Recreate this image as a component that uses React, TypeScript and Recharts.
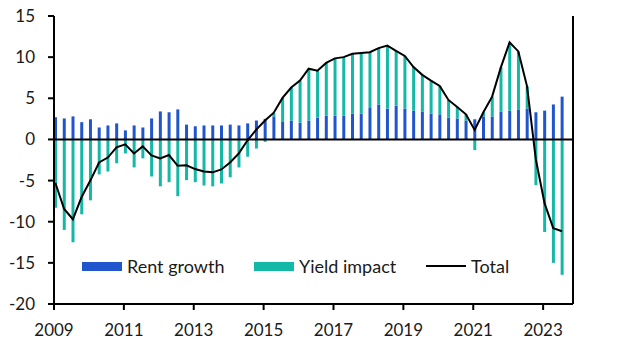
import { ComposedChart, Bar, Line, XAxis, YAxis, ReferenceLine } from 'recharts';

const years = [2009, 2010, 2011, 2012, 2013, 2014, 2015, 2016, 2017, 2018, 2019, 2020, 2021, 2022, 2023];
const quarters = years.flatMap((y) => [1, 2, 3, 4].map((q) => `${y} Q${q}`)).slice(0, 59);

const rentGrowth = [
  2.7, 2.55, 2.8, 2.1, 2.45, 1.45, 1.7, 1.95, 1.1, 1.7,
  1.45, 2.55, 3.4, 3.3, 3.65, 1.8, 1.6, 1.7, 1.7, 1.7,
  1.8, 1.7, 1.95, 2.3, 2.5, 2.8, 2.2, 2.3, 2.05, 2.3,
  2.65, 2.9, 2.9, 2.9, 3.15, 3.15, 3.9, 4.25, 3.75, 4.1,
  3.75, 3.5, 3.4, 3.15, 3.05, 2.65, 2.55, 2.3, 2.45, 2.8,
  2.8, 3.4, 3.5, 3.65, 3.75, 3.3, 3.5, 4.25, 5.2,
];

const yieldImpact = [
  -8.3, -11.0, -12.5, -9.1, -7.4, -4.25, -3.9, -2.9, -1.7, -3.4,
  -2.3, -4.5, -5.7, -5.2, -6.9, -4.95, -5.2, -5.6, -5.7, -5.35,
  -4.6, -3.4, -2.1, -1.1, -0.3, 0.4, 2.85, 4.0, 5.1, 6.3,
  5.7, 6.4, 6.9, 7.05, 7.25, 7.35, 6.7, 6.85, 7.6, 6.65,
  6.4, 5.3, 4.45, 4.0, 3.45, 2.15, 1.4, 0.75, -1.3, 0.5,
  2.4, 5.35, 8.25, 7.0, 2.7, -5.55, -11.25, -15.0, -16.45,
];

const total = [
  -5.3, -8.45, -9.7, -7.0, -5.0, -2.8, -2.2, -0.95, -0.6, -1.7,
  -0.85, -1.95, -2.3, -1.9, -3.2, -3.15, -3.6, -3.9, -4.0, -3.65,
  -2.8, -1.7, -0.1, 1.2, 2.3, 3.25, 5.05, 6.3, 7.15, 8.6,
  8.35, 9.3, 9.85, 10.0, 10.4, 10.5, 10.6, 11.1, 11.4, 10.75,
  10.15, 8.8, 7.85, 7.15, 6.5, 4.8, 3.95, 3.05, 1.15, 3.3,
  5.2, 8.75, 11.8, 10.7, 6.45, -2.4, -7.75, -10.8, -11.15,
];

const xTicks = [2009, 2011, 2013, 2015, 2017, 2019, 2021, 2023];
const yTicks = [-20, -15, -10, -5, 0, 5, 10, 15];

// quarter label -> fractional year for the numeric date axis
const toYear = (label: string) => {
  const [y, q] = label.split(' Q');
  return Number(y) + (Number(q) - 1) / 4 + 0.04;
};

const data = quarters.map((label, i) => ({
  label,
  t: toYear(label),
  rent: rentGrowth[i],
  yld: yieldImpact[i],
  total: total[i],
}));

const BLUE = '#2155CD';
const TEAL = '#13B8A7';
const FONT = 'Lato, "Open Sans", sans-serif';
const tickStyle = { fontSize: 17, fill: '#1a1a1a', fontFamily: FONT };

export default function App() {
  return (
    <div style={{ position: 'absolute', left: 0, top: 0, width: 629, height: 354, background: '#fff' }}>
      <ComposedChart
        width={629}
        height={354}
        data={data}
        stackOffset="sign"
        margin={{ top: 16, right: 0, bottom: 0, left: 0 }}
      >
        <XAxis
          dataKey="t"
          type="number"
          domain={[2009, 2023.855]}
          ticks={xTicks}
          allowDataOverflow
          height={50}
          tick={tickStyle}
          tickSize={6}
          tickMargin={14}
          axisLine={{ stroke: '#000', strokeWidth: 2 }}
          tickLine={{ stroke: '#000', strokeWidth: 2 }}
        />
        <YAxis
          yAxisId="left"
          domain={[-20, 15]}
          ticks={yTicks}
          width={54}
          tick={tickStyle}
          tickSize={6}
          tickMargin={13}
          axisLine={{ stroke: '#000', strokeWidth: 2 }}
          tickLine={{ stroke: '#000', strokeWidth: 2 }}
        />
        <YAxis
          yAxisId="right"
          orientation="right"
          domain={[-20, 15]}
          ticks={yTicks}
          width={56}
          tick={{ ...tickStyle, textAnchor: 'start' }}
          tickSize={6}
          tickMargin={13}
          axisLine={{ stroke: '#000', strokeWidth: 2 }}
          tickLine={{ stroke: '#000', strokeWidth: 2 }}
        />
        <Bar yAxisId="left" dataKey="rent" stackId="a" fill={BLUE} barSize={3} isAnimationActive={false} />
        <Bar yAxisId="left" dataKey="yld" stackId="a" fill={TEAL} barSize={3} isAnimationActive={false} />
        <ReferenceLine yAxisId="left" y={0} stroke="#000" strokeWidth={2} />
        <Line
          yAxisId="left"
          dataKey="total"
          type="linear"
          stroke="#000"
          strokeWidth={2}
          dot={false}
          isAnimationActive={false}
        />
      </ComposedChart>
      <div
        style={{
          position: 'absolute',
          top: 255,
          left: 82,
          display: 'flex',
          alignItems: 'center',
          fontFamily: FONT,
          fontSize: 18,
          color: '#1a1a1a',
          whiteSpace: 'nowrap',
        }}
      >
        <div style={{ width: 40, height: 9, background: BLUE, marginRight: 5 }} />
        <span style={{ width: 127 }}>Rent growth</span>
        <div style={{ width: 40, height: 9, background: TEAL, marginRight: 5 }} />
        <span style={{ width: 127 }}>Yield impact</span>
        <div style={{ width: 40, height: 2, background: '#000', marginRight: 5 }} />
        <span>Total</span>
      </div>
    </div>
  );
}
